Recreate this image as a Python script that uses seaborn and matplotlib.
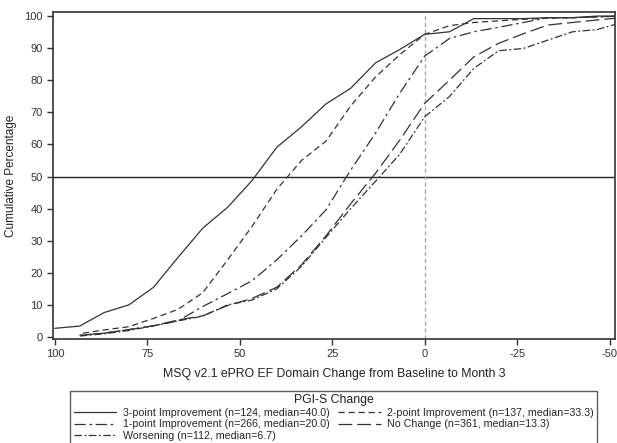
import matplotlib
matplotlib.use("Agg")
import matplotlib.pyplot as plt
import numpy as np
import pandas as pd
import seaborn as sns
from matplotlib.lines import Line2D

# MSQ EF change values (x) and cumulative percentage per PGI-S group
change = [100, 93.3, 86.7, 80, 73.3, 66.7, 60, 53.3, 46.7, 40, 33.3, 26.7,
          20, 13.3, 6.7, 0, -6.7, -13.3, -20, -26.7, -33.3, -40, -46.7, -53.3]
three_pt = [2.7, 3.4, 7.6, 10.0, 15.5, 24.8, 33.9, 40.4, 48.7, 59.1, 65.5, 72.6,
            77.5, 85.4, 89.6, 94.3, 95.1, 99.2, 99.2, 99.2, 99.5, 99.5, 100, 100]
two_pt = [np.nan, 1.0, 2.2, 3.2, 5.8, 8.6, 13.8, 24.0, 34.4, 46.0, 55.0, 61.0,
          72.0, 81.0, 88.0, 94.3, 97.0, 98.0, 98.5, 99.0, 99.3, 99.5, 99.8, 100]
one_pt = [np.nan, 0.5, 1.2, 2.3, 3.5, 5.0, 9.5, 13.5, 17.5, 24.0, 31.5, 39.6,
          52.0, 63.5, 76.0, 87.5, 93.0, 95.1, 96.5, 98.0, 99.5, 99.5, 99.7, 100]
no_change = [np.nan, 0.5, 1.2, 2.3, 3.5, 5.3, 6.6, 9.8, 12.0, 15.5, 22.5, 31.5,
             41.5, 51.0, 61.4, 72.8, 80.0, 87.3, 91.5, 94.5, 97.2, 98.0, 98.8, 99.5]
worsening = [np.nan, 0.3, 1.0, 2.0, 3.5, 5.0, 6.5, 10.0, 11.5, 15.0, 22.0, 31.0,
             40.0, 48.5, 57.0, 68.6, 74.9, 83.7, 89.2, 89.9, 92.5, 95.1, 95.8, 98.0]

groups = [
    "3-point Improvement (n=124, median=40.0)",
    "2-point Improvement (n=137, median=33.3)",
    "1-point Improvement (n=266, median=20.0)",
    "No Change (n=361, median=13.3)",
    "Worsening (n=112, median=6.7)",
]
series = [three_pt, two_pt, one_pt, no_change, worsening]

dash_styles = {
    groups[0]: "",
    groups[1]: (5, 3),
    groups[2]: (9, 3, 2, 3),
    groups[3]: (11, 4),
    groups[4]: (6, 2, 1.5, 2),
}

df = pd.concat(
    [pd.DataFrame({"change": change, "pct": vals, "group": g}) for g, vals in zip(groups, series)],
    ignore_index=True,
).dropna()

sns.set_theme(style="ticks")
plt.rcParams["font.family"] = ["Liberation Sans", "DejaVu Sans"]
plt.rcParams["axes.unicode_minus"] = False

fig = plt.figure(figsize=(6.17, 4.43), dpi=100)
ax = fig.add_axes([0.0859, 0.2348, 0.911, 0.738])

line_color = "#333333"
sns.lineplot(data=df, x="change", y="pct", hue="group", style="group",
             hue_order=groups, style_order=groups,
             palette={g: line_color for g in groups}, dashes=dash_styles,
             linewidth=0.9, legend=False, ax=ax)

ax.axhline(50, color="#222222", linewidth=1.0, zorder=1)
ax.axvline(0, color="#aaaaaa", linewidth=1.0, linestyle=(0, (3, 2)), zorder=1)

ax.set_xlim(100.5, -51.5)
ax.set_ylim(-0.62, 101.25)
ax.set_xticks([100, 75, 50, 25, 0, -25, -50])
ax.set_yticks(range(0, 101, 10))
ax.tick_params(axis="both", labelsize=8, colors="#333333", length=4, width=1, direction="out")
ax.set_xlabel("MSQ v2.1 ePRO EF Domain Change from Baseline to Month 3", fontsize=8.8, color="#222222", labelpad=6)
ax.set_ylabel("Cumulative Percentage", fontsize=8.5, color="#222222", labelpad=5)
for sp in ax.spines.values():
    sp.set_visible(True)
    sp.set_color("#333333")
    sp.set_linewidth(1.2)

# legend laid out column-wise: col 1 = 3pt, 1pt, worsening; col 2 = 2pt, no change
order = [0, 2, 4, 1, 3]
handles = []
for i in order:
    d = dash_styles[groups[i]]
    ls = "-" if d == "" else (0, d)
    handles.append(Line2D([0], [0], color=line_color, linewidth=0.9, linestyle=ls))
leg = fig.legend(handles, [groups[i] for i in order], ncol=2, loc="upper center",
                 bbox_to_anchor=(0.541, 0.124), title="PGI-S Change",
                 fontsize=7.7, title_fontsize=8.8, frameon=True, fancybox=False,
                 edgecolor="#333333", handlelength=4.0, handletextpad=0.6,
                 columnspacing=0.8, labelspacing=0.14, borderpad=0.3, borderaxespad=0.3)
leg.get_frame().set_linewidth(1.0)
leg.get_title().set_color("#222222")

fig.savefig("out.png", dpi=100)
